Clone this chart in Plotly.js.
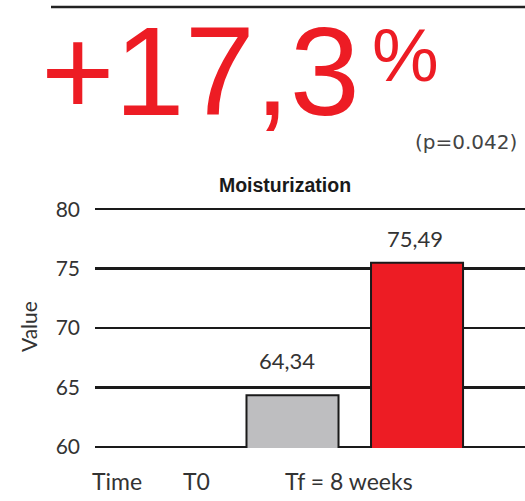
<!DOCTYPE html>
<html>
<head>
<meta charset="utf-8">
<script src="https://cdn.plot.ly/plotly-3.0.1.min.js"></script>
<style>html,body{margin:0;padding:0;background:#fff;}#chart{width:525px;height:501px;}</style>
</head>
<body>
<div id="chart"></div>
<script>
// ---- data ----
const categories = ["T0", "Tf = 8 weeks"];
const values = [64.34, 75.49];
const barColors = ["#bebec0", "#ed1c24"];
const yTicks = [60, 65, 70, 75, 80];
const headline = "+17,3";
const headlineUnit = "%";
const pValueText = "(p=0.042)";
const chartTitle = "Moisturization";
const yTitle = "Value";
const timeLabels = ["Time", "T0", "Tf = 8 weeks"];

// ---- helpers: pixel -> paper (plot area: left 95, width 430, top 208, height 240) ----
const L = 95, W = 430, T = 208, H = 240;
const px = x => (x - L) / W;
const py = y => (T + H - y) / H;

const fmt = v => v.toFixed(2).replace('.', ',');

const trace = {
  type: 'bar',
  x: categories,
  y: values,
  marker: { color: barColors, line: { color: '#1a1a1a', width: 2 } },
  hoverinfo: 'skip'
};

const labelShift = [{ x: -6, y: 35 }, { x: -2, y: 24 }];
const annotations = [];
values.forEach((v, i) => {
  annotations.push({
    x: categories[i], y: v, xref: 'x', yref: 'y',
    text: fmt(v), showarrow: false,
    xanchor: 'center', yanchor: 'middle',
    xshift: labelShift[i].x, yshift: labelShift[i].y,
    font: { family: 'Lato, "Open Sans", sans-serif', size: 22, color: '#333' }
  });
});

// headline
annotations.push({
  x: px(39), y: py(71), xref: 'paper', yref: 'paper',
  text: headline, showarrow: false, xanchor: 'left', yanchor: 'middle',
  font: { family: '"Liberation Sans", Arial, sans-serif', size: 126, color: '#ed1c24' }
});
annotations.push({
  x: px(370), y: py(55), xref: 'paper', yref: 'paper',
  text: headlineUnit, showarrow: false, xanchor: 'left', yanchor: 'middle',
  font: { family: '"Liberation Sans", Arial, sans-serif', size: 75, color: '#ed1c24' }
});
annotations.push({
  x: px(466), y: py(142), xref: 'paper', yref: 'paper',
  text: pValueText, showarrow: false, xanchor: 'center', yanchor: 'middle',
  font: { family: '"DejaVu Sans", sans-serif', size: 20, color: '#444' }
});
// y title
annotations.push({
  x: px(28), y: py(327), xref: 'paper', yref: 'paper',
  text: yTitle, showarrow: false, textangle: -90, xanchor: 'center', yanchor: 'middle',
  font: { family: 'Lato, "Open Sans", sans-serif', size: 21, color: '#333' }
});
// bottom labels
const bottomX = [116.5, 196.5, 349];
timeLabels.forEach((t, i) => {
  annotations.push({
    x: px(bottomX[i]), y: py(481), xref: 'paper', yref: 'paper',
    text: t, showarrow: false, xanchor: 'center', yanchor: 'middle',
    font: { family: 'Lato, "Open Sans", sans-serif', size: 23, color: '#333' }
  });
});

const layout = {
  width: 525, height: 501,
  margin: { l: L, r: 0, t: T, b: 501 - T - H, pad: 0 },
  paper_bgcolor: '#fff', plot_bgcolor: '#fff',
  showlegend: false,
  bargap: 0.261,
  title: {
    text: chartTitle,
    font: { family: '"Liberation Sans", Arial, sans-serif', size: 19.5, color: '#1a1a1a', weight: 'bold' },
    x: px(285), xref: 'paper', xanchor: 'center',
    y: 1 - 185 / 501, yref: 'container', yanchor: 'middle'
  },
  xaxis: {
    type: 'category', range: [-1.586, 1.867],
    showticklabels: false, showgrid: false, zeroline: false, showline: false, ticks: ''
  },
  yaxis: {
    range: [59.9, 80.1], tickvals: yTicks, ticktext: yTicks.map(String),
    showgrid: true, gridcolor: '#1a1a1a', gridwidth: 2.5,
    zeroline: false, showline: false, ticks: '',
    ticklabelstandoff: 14,
    tickfont: { family: 'Lato, "Open Sans", sans-serif', size: 21, color: '#333' }
  },
  shapes: [{
    type: 'line', xref: 'paper', yref: 'paper',
    x0: px(51), x1: 1, y0: py(7), y1: py(7),
    line: { color: '#222', width: 2.5 }
  }],
  annotations: annotations
};

Plotly.newPlot('chart', [trace], layout, { displayModeBar: false, staticPlot: true });
</script>
</body>
</html>
